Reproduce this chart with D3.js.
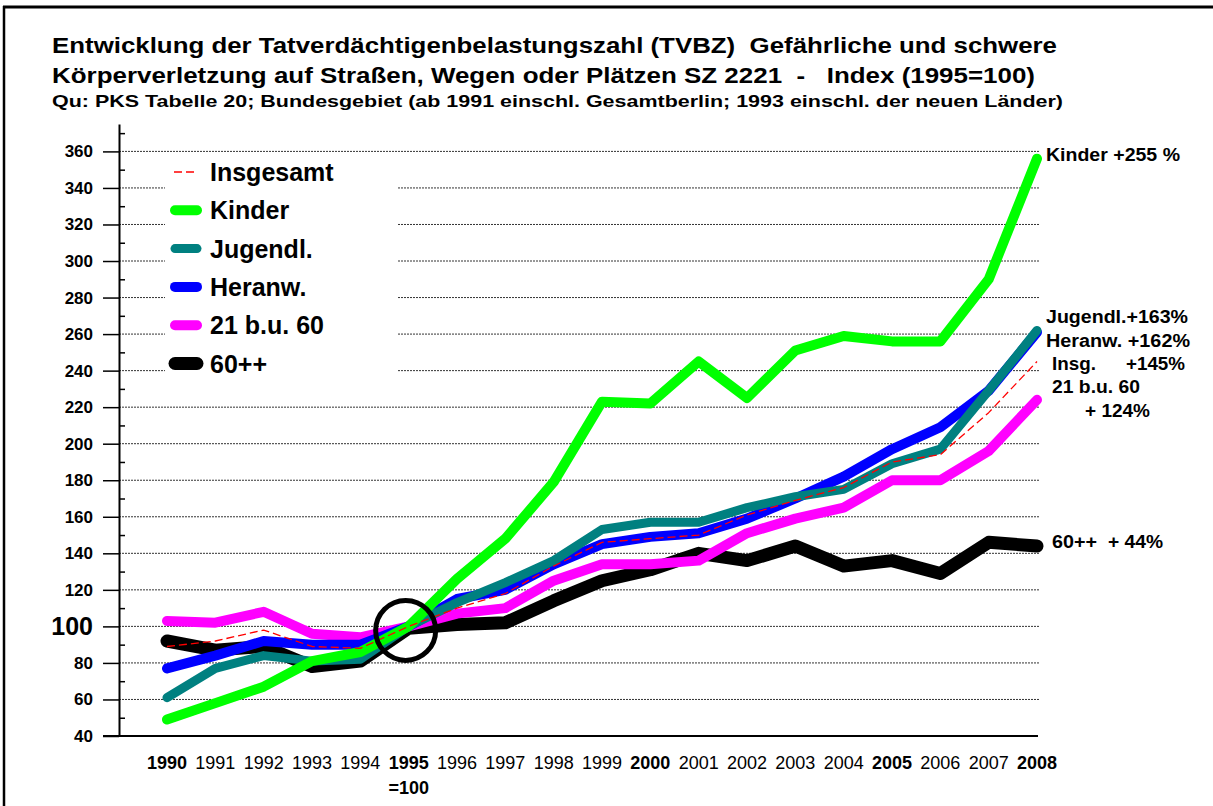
<!DOCTYPE html>
<html>
<head>
<meta charset="utf-8">
<script src="https://cdn.jsdelivr.net/npm/d3@7"></script>
<style>
  body { margin: 0; background: #fff; }
  svg { font-family: Arial, "Liberation Sans", sans-serif; }
  text { white-space: pre; }
</style>
</head>
<body>
<svg id="chart"></svg>
<script>
// data
let years = ["1990","1991","1992","1993","1994","1995","1996","1997","1998","1999",
             "2000","2001","2002","2003","2004","2005","2006","2007","2008"];
let boldYears = ["1990","1995","2000","2005","2008"];

let insgesamt = [89, 92, 98, 89, 88, 100, 110, 118, 133, 146, 148, 150, 161, 169, 176, 190, 194, 217, 245];
let kinder    = [49, 58, 67, 81, 86, 100, 126, 148, 179, 223, 222, 245, 225, 251, 259, 256, 256, 290, 356];
let jugendl   = [61, 77, 84, 81, 82, 100, 113, 124, 136, 153, 157, 157, 165, 171, 175, 189, 197, 229, 262];
let heranw    = [77, 84, 92, 90, 90, 100, 115, 120, 134, 145, 149, 151, 159, 170, 182, 197, 209, 229, 261];
let mittel    = [103, 102, 108, 96, 94, 100, 107, 110, 125, 134, 134, 136, 151, 159, 165, 180, 180, 196, 224];
let senioren  = [92, 87, 89, 78, 81, 99, 101, 102, 114, 125, 131, 140, 136, 144, 133, 136, 129, 146, 144];

let majorTicks = d3.range(40, 361, 20);
let minorTicks = d3.range(50, 371, 20);

let titleLines = [
  "Entwicklung der Tatverdächtigenbelastungszahl (TVBZ)  Gefährliche und schwere",
  "Körperverletzung auf Straßen, Wegen oder Plätzen SZ 2221  -   Index (1995=100)"
];
let subTitle = "Qu: PKS Tabelle 20; Bundesgebiet (ab 1991 einschl. Gesamtberlin; 1993 einschl. der neuen Länder)";

// draw order: bottom first
let series = [
  { name: "60++",       values: senioren,  color: "#000000", width: 13 },
  { name: "21 b.u. 60", values: mittel,    color: "#ff00ff", width: 10 },
  { name: "Heranw.",    values: heranw,    color: "#0000ff", width: 10 },
  { name: "Jugendl.",   values: jugendl,   color: "#008080", width: 9 },
  { name: "Kinder",     values: kinder,    color: "#00ff00", width: 10 },
  { name: "Insgesamt",  values: insgesamt, color: "#ff0000", width: 1.3, dash: "8,4" }
];
let legendOrder = ["Insgesamt", "Kinder", "Jugendl.", "Heranw.", "21 b.u. 60", "60++"];

function getConfig(){
  let width = 1213, height = 806;
  let container = d3.select("#chart").attr("width", width).attr("height", height);
  return { width, height, container };
}

function getScales(){
  let xScale = d3.scalePoint().domain(years).range([167, 1037]);
  let yScale = d3.scaleLinear().domain([40, 375]).range([736, 124]);
  return { xScale, yScale };
}

function drawFrame(cfg){
  let c = cfg.container;
  c.append("line").attr("x1", 3).attr("x2", cfg.width).attr("y1", 7).attr("y2", 7)
    .attr("stroke", "#000").attr("stroke-width", 3);
  c.append("line").attr("x1", 4).attr("x2", 4).attr("y1", 6).attr("y2", cfg.height)
    .attr("stroke", "#000").attr("stroke-width", 2.5);

  let titleWidths = [1005, 983];
  c.selectAll(".title").data(titleLines).enter().append("text")
    .attr("x", 52).attr("y", (d, i) => 53 + i * 30)
    .attr("font-size", "22.5px").attr("font-weight", "bold")
    .attr("textLength", (d, i) => titleWidths[i])
    .attr("lengthAdjust", "spacingAndGlyphs")
    .text(d => d);
  c.append("text").attr("x", 52).attr("y", 107)
    .attr("font-size", "16.5px").attr("font-weight", "bold")
    .attr("textLength", 1011).attr("lengthAdjust", "spacingAndGlyphs")
    .text(subTitle);
}

function drawAxes(scales, cfg){
  let { xScale, yScale } = scales;
  let c = cfg.container;

  // dotted grid
  c.append("g").selectAll("line").data(majorTicks.filter(d => d > 40)).enter().append("line")
    .attr("x1", 119).attr("x2", 1040)
    .attr("y1", d => yScale(d)).attr("y2", d => yScale(d))
    .attr("stroke", "#333").attr("stroke-width", 1).attr("stroke-dasharray", "2,1");

  let axisY = d3.axisLeft(yScale).tickValues(majorTicks).tickSize(16).tickSizeOuter(0).tickPadding(10);
  let gy = c.append("g").attr("transform", "translate(119,0)").call(axisY);
  gy.select(".domain").attr("stroke-width", 2);
  gy.selectAll(".tick line").attr("stroke-width", 1.5);
  gy.selectAll(".tick text")
    .attr("font-size", d => d == 100 ? "25px" : "17px")
    .attr("font-weight", "bold")
    .attr("fill", "#000")
    .attr("font-family", "Arial, 'Liberation Sans', sans-serif");

  let axisMinor = d3.axisRight(yScale).tickValues(minorTicks).tickSize(6).tickFormat("");
  let gm = c.append("g").attr("transform", "translate(119,0)").call(axisMinor);
  gm.select(".domain").remove();
  gm.selectAll(".tick line").attr("stroke-width", 1.5);

  // x axis line
  c.append("line").attr("x1", 103).attr("x2", 1038)
    .attr("y1", yScale(40)).attr("y2", yScale(40))
    .attr("stroke", "#000").attr("stroke-width", 2);

  c.append("g").selectAll("text").data(years).enter().append("text")
    .attr("x", d => xScale(d)).attr("y", 769)
    .attr("text-anchor", "middle")
    .attr("font-size", "18px")
    .attr("font-weight", d => boldYears.includes(d) ? "bold" : "normal")
    .text(d => d);
  c.append("text").attr("x", xScale("1995")).attr("y", 794)
    .attr("text-anchor", "middle").attr("font-size", "18px").attr("font-weight", "bold")
    .text("=100");
}

function drawLegendBox(cfg){
  cfg.container.append("rect").attr("x", 165).attr("y", 158)
    .attr("width", 232).attr("height", 226).attr("fill", "#fff");
}

function drawLines(scales, cfg){
  let { xScale, yScale } = scales;
  let line = d3.line().x((d, i) => xScale(years[i])).y(d => yScale(d));
  cfg.container.append("g").selectAll("path").data(series).enter().append("path")
    .attr("d", d => line(d.values))
    .attr("fill", "none")
    .attr("stroke", d => d.color)
    .attr("stroke-width", d => d.width)
    .attr("stroke-dasharray", d => d.dash || null)
    .attr("stroke-linejoin", "round")
    .attr("stroke-linecap", d => d.dash ? "butt" : "round");

  // circle round 1995 = 100
  cfg.container.append("circle")
    .attr("cx", xScale("1995") - 3).attr("cy", yScale(100) + 4).attr("r", 30)
    .attr("fill", "none").attr("stroke", "#000").attr("stroke-width", 5);
}

function drawLegend(cfg){
  let c = cfg.container;
  let g = c.append("g");
  legendOrder.forEach((name, i) => {
    let s = series.find(d => d.name == name);
    let y = 172 + i * 38.3;
    g.append("line").attr("x1", s.dash ? 174 : 175).attr("x2", s.dash ? 198 : 197)
      .attr("y1", y).attr("y2", y)
      .attr("stroke", s.color)
      .attr("stroke-width", s.dash ? 1.3 : s.width)
      .attr("stroke-dasharray", s.dash ? "8,4" : null)
      .attr("stroke-linecap", s.dash ? "butt" : "round");
    g.append("text").attr("x", 210).attr("y", y + 9)
      .attr("font-size", "25px").attr("font-weight", "bold")
      .text(name);
  });
}

function drawNotes(cfg){
  let c = cfg.container;
  let notes = [
    { x: 1046, y: 161, w: 134, t: "Kinder +255 %" },
    { x: 1046, y: 323, w: 142, t: "Jugendl.+163%" },
    { x: 1046, y: 347, w: 144, t: "Heranw. +162%" },
    { x: 1052, y: 370, w: 44,  t: "Insg." },
    { x: 1126, y: 370, w: 59,  t: "+145%" },
    { x: 1052, y: 393, w: 88,  t: "21 b.u. 60" },
    { x: 1085, y: 417, w: 65,  t: "+ 124%" },
    { x: 1052, y: 548, w: 45,  t: "60++" },
    { x: 1108, y: 548, w: 55,  t: "+ 44%" }
  ];
  c.append("g").selectAll("text").data(notes).enter().append("text")
    .attr("x", d => d.x).attr("y", d => d.y)
    .attr("font-size", "18px").attr("font-weight", "bold")
    .attr("textLength", d => d.w).attr("lengthAdjust", "spacingAndGlyphs")
    .text(d => d.t);
}

let cfg = getConfig();
let scales = getScales();
drawFrame(cfg);
drawAxes(scales, cfg);
drawLegendBox(cfg);
drawLines(scales, cfg);
drawLegend(cfg);
drawNotes(cfg);
</script>
</body>
</html>
